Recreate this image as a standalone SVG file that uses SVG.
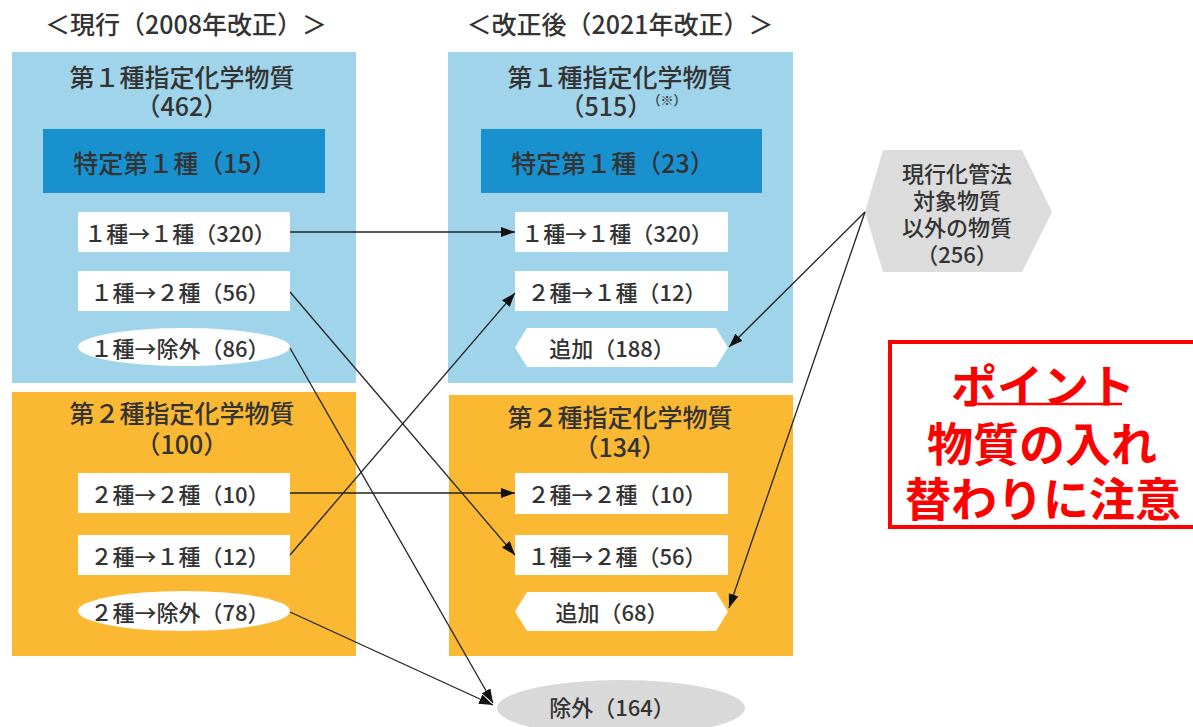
<svg xmlns="http://www.w3.org/2000/svg" width="1193" height="727" viewBox="0 0 1193 727">
<defs>
<marker id="arr" viewBox="0 0 14 10" refX="14" refY="5" markerWidth="14" markerHeight="10" markerUnits="userSpaceOnUse" orient="auto">
<path d="M0,0 L14,5 L0,10 Z" fill="#111"/>
</marker>
<style>
text{font-family:"Noto Sans CJK JP","Noto Sans",sans-serif;fill:#333333;text-anchor:middle;dominant-baseline:central;font-weight:500}
.hd{font-size:25px}
.tt{font-size:25px}
.bx{font-size:22px}
.hx{font-size:22px}
.sm{font-size:13px}
.wh{fill:#ffffff}
.lb{fill:#9fd4ea}
.db{fill:#1a91cf}
.or{fill:#fbb933}
.conn line{stroke:#222;stroke-width:1.3;fill:none;marker-end:url(#arr)}
.pt{font-size:46px;font-weight:bold;fill:#ff0000}
</style>
</defs>
<rect width="1193" height="727" fill="#ffffff"/>

<g id="header-left"><text class="hd" x="186" y="23">＜現行（2008年改正）＞</text></g>
<g id="header-right"><text class="hd" x="620" y="23">＜改正後（2021年改正）＞</text></g>

<g id="old-class1">
<rect class="lb" x="12" y="52" width="344" height="331"/>
<text class="tt"><tspan x="182" y="76">第１種指定化学物質</tspan><tspan x="182" y="105">（462）</tspan></text>
</g>
<g id="old-special">
<rect class="db" x="43" y="129" width="282" height="64"/>
<text class="tt" x="175" y="162">特定第１種（15）</text>
</g>
<g id="old-1to1"><rect class="wh" x="78" y="212" width="212" height="40"/><text class="bx" x="180" y="232">１種→１種（320）</text></g>
<g id="old-1to2"><rect class="wh" x="78" y="271" width="212" height="40"/><text class="bx" x="180" y="291">１種→２種（56）</text></g>
<g id="old-1ex"><ellipse class="wh" cx="184" cy="347" rx="106" ry="19"/><text class="bx" x="180" y="347">１種→除外（86）</text></g>

<g id="old-class2">
<rect class="or" x="12" y="392" width="344" height="264"/>
<text class="tt"><tspan x="182" y="412">第２種指定化学物質</tspan><tspan x="182" y="443">（100）</tspan></text>
</g>
<g id="old-2to2"><rect class="wh" x="78" y="473" width="212" height="40"/><text class="bx" x="180" y="493">２種→２種（10）</text></g>
<g id="old-2to1"><rect class="wh" x="78" y="535" width="212" height="40"/><text class="bx" x="180" y="555">２種→１種（12）</text></g>
<g id="old-2ex"><ellipse class="wh" cx="184" cy="611" rx="106" ry="20"/><text class="bx" x="180" y="611">２種→除外（78）</text></g>

<g id="new-class1">
<rect class="lb" x="448" y="52" width="345" height="331"/>
<text class="tt"><tspan x="620" y="76">第１種指定化学物質</tspan><tspan x="606" y="105">（515）</tspan><tspan class="sm" x="667" y="99">（※）</tspan></text>
</g>
<g id="new-special">
<rect class="db" x="481" y="129" width="281" height="64"/>
<text class="tt" x="613" y="162">特定第１種（23）</text>
</g>
<g id="new-1to1"><rect class="wh" x="515" y="212" width="213" height="40"/><text class="bx" x="617" y="232">１種→１種（320）</text></g>
<g id="new-2to1"><rect class="wh" x="515" y="271" width="213" height="40"/><text class="bx" x="617" y="291">２種→１種（12）</text></g>
<g id="new-add1"><polygon class="wh" points="527,328 716,328 728,347.5 716,367 527,367 515,347.5"/><text class="bx" x="612" y="347">追加（188）</text></g>

<g id="new-class2">
<rect class="or" x="449" y="395" width="344" height="261"/>
<text class="tt"><tspan x="620" y="416">第２種指定化学物質</tspan><tspan x="620" y="446">（134）</tspan></text>
</g>
<g id="new-2to2"><rect class="wh" x="515" y="473" width="213" height="41"/><text class="bx" x="617" y="493">２種→２種（10）</text></g>
<g id="new-1to2"><rect class="wh" x="515" y="535" width="213" height="40"/><text class="bx" x="617" y="555">１種→２種（56）</text></g>
<g id="new-add2"><polygon class="wh" points="527,592 716,592 728,611.5 716,631 527,631 515,611.5"/><text class="bx" x="612" y="611">追加（68）</text></g>

<g id="excluded"><ellipse cx="621" cy="708" rx="124" ry="28" fill="#d9d9d9"/><text class="bx" x="612" y="706">除外（164）</text></g>

<g id="other">
<polygon points="883,150 1022,150 1052,212 1022,272 883,272 865,212" fill="#dcdcdc"/>
<text class="hx"><tspan x="957" y="172">現行化管法</tspan><tspan x="957" y="199">対象物質</tspan><tspan x="957" y="226">以外の物質</tspan><tspan x="957" y="253">（256）</tspan></text>
</g>

<g id="point">
<rect x="890" y="342" width="310" height="185" fill="none" stroke="#ff0000" stroke-width="4"/>
<line x1="965" y1="404" x2="1122" y2="404" stroke="#ff0000" stroke-width="2.5"/>
<text class="pt"><tspan x="1043" y="383">ポイント</tspan><tspan x="1042" y="441">物質の入れ</tspan><tspan x="1043" y="496">替わりに注意</tspan></text>
</g>

<g class="conn" id="connectors">
<line x1="290" y1="232" x2="515" y2="232"/>
<line x1="290" y1="292" x2="515" y2="555"/>
<line x1="290" y1="348" x2="493" y2="703"/>
<line x1="290" y1="493" x2="515" y2="493"/>
<line x1="290" y1="555" x2="515" y2="293"/>
<line x1="290" y1="612" x2="493" y2="705"/>
<line x1="865" y1="212" x2="729" y2="347"/>
<line x1="865" y1="212" x2="729" y2="608"/>
</g>
</svg>
